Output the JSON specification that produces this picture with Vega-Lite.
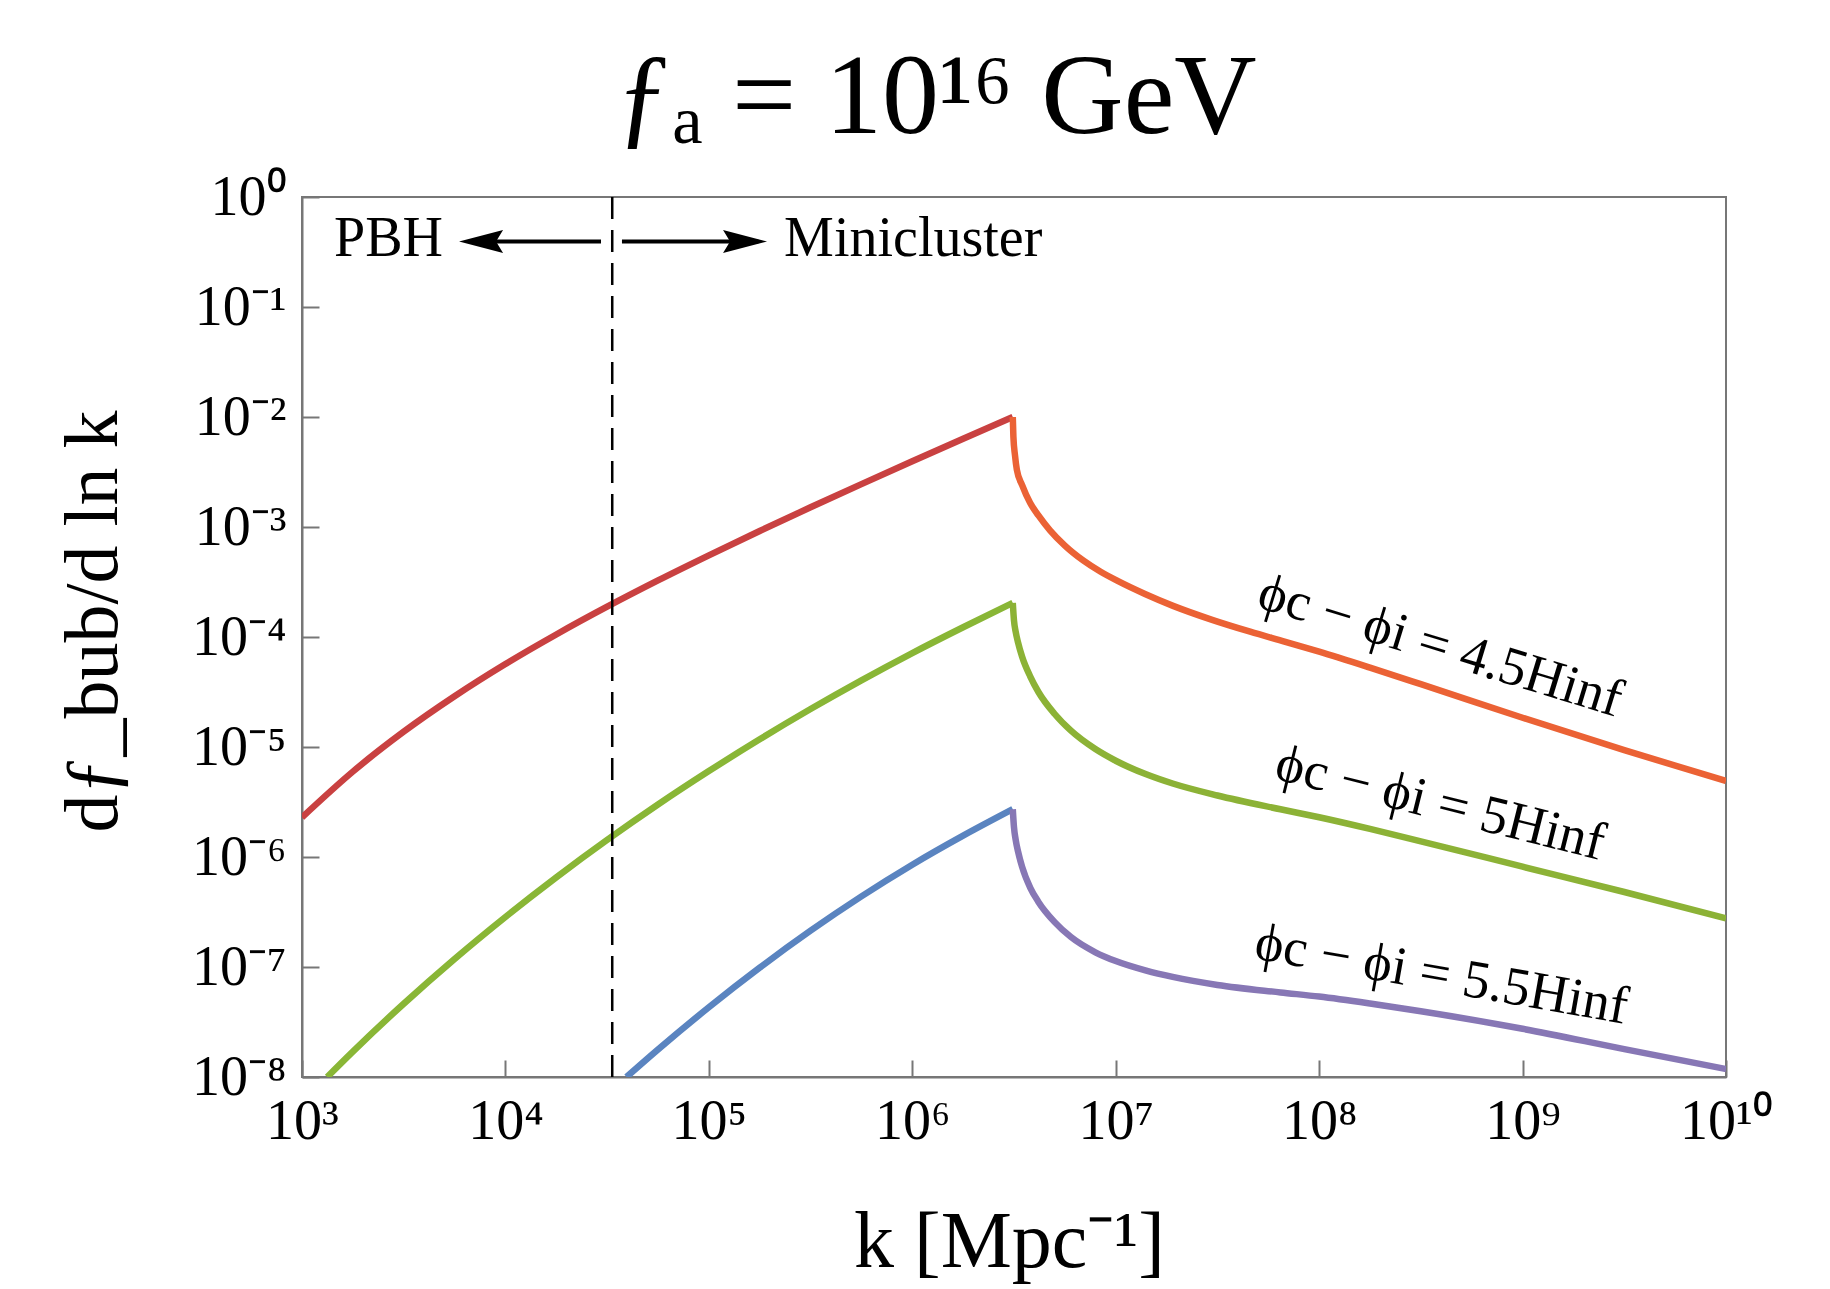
{
  "$schema": "https://vega.github.io/schema/vega-lite/v6.json",
  "width": 1424,
  "height": 880,
  "autosize": {"type": "none"},
  "padding": {"left": 302, "top": 197, "right": 104, "bottom": 212},
  "background": "white",
  "title": {"text": "ƒₐ  =  10¹⁶ GeV", "font": "Liberation Serif", "fontSize": 114, "fontWeight": "normal", "color": "black", "anchor": "middle", "baseline": "alphabetic", "offset": -78, "dx": -78},
  "config": {
    "view": {"stroke": "#777777", "strokeWidth": 2},
    "axis": {
      "grid": false,
      "domainColor": "#777777",
      "domainWidth": 2,
      "tickColor": "#777777",
      "tickWidth": 2,
      "tickSize": -17,
      "labelFont": "Liberation Serif",
      "labelFontSize": 56,
      "labelColor": "black",
      "labelFlush": false,
      "labelOverlap": false,
      "titleFont": "Liberation Serif",
      "titleFontWeight": "normal",
      "titleColor": "black"
    }
  },
  "datasets": {
    "curves": [
      {"k": 1000, "y": 2.291e-6, "seg": "4.5 rise"},
      {"k": 1778, "y": 5.971e-6, "seg": "4.5 rise"},
      {"k": 3162, "y": 1.377e-5, "seg": "4.5 rise"},
      {"k": 5623, "y": 2.891e-5, "seg": "4.5 rise"},
      {"k": 10000, "y": 5.675e-5, "seg": "4.5 rise"},
      {"k": 17783, "y": 1.054e-4, "seg": "4.5 rise"},
      {"k": 31623, "y": 1.884e-4, "seg": "4.5 rise"},
      {"k": 56234, "y": 3.266e-4, "seg": "4.5 rise"},
      {"k": 100000, "y": 5.521e-4, "seg": "4.5 rise"},
      {"k": 177828, "y": 9.204e-4, "seg": "4.5 rise"},
      {"k": 316228, "y": 1.510e-3, "seg": "4.5 rise"},
      {"k": 562341, "y": 2.455e-3, "seg": "4.5 rise"},
      {"k": 1000000, "y": 3.963e-3, "seg": "4.5 rise"},
      {"k": 1778279, "y": 6.353e-3, "seg": "4.5 rise"},
      {"k": 3119000, "y": 1.0e-2, "seg": "4.5 rise"},

      {"k": 3119000, "y": 1.0e-2, "seg": "4.5 fall"},
      {"k": 3141000, "y": 6.607e-3, "seg": "4.5 fall"},
      {"k": 3199000, "y": 4.467e-3, "seg": "4.5 fall"},
      {"k": 3266000, "y": 3.311e-3, "seg": "4.5 fall"},
      {"k": 3467000, "y": 2.399e-3, "seg": "4.5 fall"},
      {"k": 3793000, "y": 1.660e-3, "seg": "4.5 fall"},
      {"k": 4169000, "y": 1.274e-3, "seg": "4.5 fall"},
      {"k": 4753000, "y": 9.333e-4, "seg": "4.5 fall"},
      {"k": 5623000, "y": 6.776e-4, "seg": "4.5 fall"},
      {"k": 6918000, "y": 4.966e-4, "seg": "4.5 fall"},
      {"k": 8395000, "y": 3.936e-4, "seg": "4.5 fall"},
      {"k": 10160000, "y": 3.251e-4, "seg": "4.5 fall"},
      {"k": 13930000, "y": 2.460e-4, "seg": "4.5 fall"},
      {"k": 19140000, "y": 1.919e-4, "seg": "4.5 fall"},
      {"k": 29790000, "y": 1.432e-4, "seg": "4.5 fall"},
      {"k": 45810000, "y": 1.117e-4, "seg": "4.5 fall"},
      {"k": 68230000, "y": 9.036e-5, "seg": "4.5 fall"},
      {"k": 100000000, "y": 7.345e-5, "seg": "4.5 fall"},
      {"k": 177828000, "y": 5.260e-5, "seg": "4.5 fall"},
      {"k": 316228000, "y": 3.724e-5, "seg": "4.5 fall"},
      {"k": 1000000000, "y": 1.845e-5, "seg": "4.5 fall"},
      {"k": 3162278000, "y": 9.354e-6, "seg": "4.5 fall"},
      {"k": 10000000000, "y": 4.909e-6, "seg": "4.5 fall"},

      {"k": 1330, "y": 1.0e-8, "seg": "5 rise"},
      {"k": 1778, "y": 1.702e-8, "seg": "5 rise"},
      {"k": 3162, "y": 4.634e-8, "seg": "5 rise"},
      {"k": 5623, "y": 1.183e-7, "seg": "5 rise"},
      {"k": 10000, "y": 2.851e-7, "seg": "5 rise"},
      {"k": 17783, "y": 6.531e-7, "seg": "5 rise"},
      {"k": 31623, "y": 1.429e-6, "seg": "5 rise"},
      {"k": 56234, "y": 2.999e-6, "seg": "5 rise"},
      {"k": 100000, "y": 6.039e-6, "seg": "5 rise"},
      {"k": 177828, "y": 1.175e-5, "seg": "5 rise"},
      {"k": 316228, "y": 2.213e-5, "seg": "5 rise"},
      {"k": 562341, "y": 4.036e-5, "seg": "5 rise"},
      {"k": 1000000, "y": 7.145e-5, "seg": "5 rise"},
      {"k": 1778279, "y": 1.227e-4, "seg": "5 rise"},
      {"k": 3119000, "y": 2.042e-4, "seg": "5 rise"},

      {"k": 3119000, "y": 2.042e-4, "seg": "5 fall"},
      {"k": 3162000, "y": 1.413e-4, "seg": "5 fall"},
      {"k": 3221000, "y": 1.122e-4, "seg": "5 fall"},
      {"k": 3311000, "y": 8.913e-5, "seg": "5 fall"},
      {"k": 3467000, "y": 6.607e-5, "seg": "5 fall"},
      {"k": 3802000, "y": 4.365e-5, "seg": "5 fall"},
      {"k": 4169000, "y": 3.162e-5, "seg": "5 fall"},
      {"k": 5012000, "y": 1.995e-5, "seg": "5 fall"},
      {"k": 6026000, "y": 1.406e-5, "seg": "5 fall"},
      {"k": 7943000, "y": 9.572e-6, "seg": "5 fall"},
      {"k": 10000000, "y": 7.499e-6, "seg": "5 fall"},
      {"k": 14125000, "y": 5.649e-6, "seg": "5 fall"},
      {"k": 19055000, "y": 4.656e-6, "seg": "5 fall"},
      {"k": 31623000, "y": 3.622e-6, "seg": "5 fall"},
      {"k": 64565000, "y": 2.716e-6, "seg": "5 fall"},
      {"k": 100000000, "y": 2.296e-6, "seg": "5 fall"},
      {"k": 177828000, "y": 1.799e-6, "seg": "5 fall"},
      {"k": 316228000, "y": 1.387e-6, "seg": "5 fall"},
      {"k": 1000000000, "y": 8.166e-7, "seg": "5 fall"},
      {"k": 3162278000, "y": 4.808e-7, "seg": "5 fall"},
      {"k": 10000000000, "y": 2.767e-7, "seg": "5 fall"},

      {"k": 39360, "y": 1.0e-8, "seg": "5.5 rise"},
      {"k": 56234, "y": 1.778e-8, "seg": "5.5 rise"},
      {"k": 100000, "y": 4.305e-8, "seg": "5.5 rise"},
      {"k": 177828, "y": 9.863e-8, "seg": "5.5 rise"},
      {"k": 316228, "y": 2.138e-7, "seg": "5.5 rise"},
      {"k": 562341, "y": 4.385e-7, "seg": "5.5 rise"},
      {"k": 1000000, "y": 8.511e-7, "seg": "5.5 rise"},
      {"k": 1778279, "y": 1.563e-6, "seg": "5.5 rise"},
      {"k": 3119000, "y": 2.72e-6, "seg": "5.5 rise"},

      {"k": 3119000, "y": 2.72e-6, "seg": "5.5 fall"},
      {"k": 3162000, "y": 1.862e-6, "seg": "5.5 fall"},
      {"k": 3221000, "y": 1.445e-6, "seg": "5.5 fall"},
      {"k": 3311000, "y": 1.122e-6, "seg": "5.5 fall"},
      {"k": 3467000, "y": 8.128e-7, "seg": "5.5 fall"},
      {"k": 3802000, "y": 5.248e-7, "seg": "5.5 fall"},
      {"k": 4169000, "y": 3.908e-7, "seg": "5.5 fall"},
      {"k": 5012000, "y": 2.559e-7, "seg": "5.5 fall"},
      {"k": 6026000, "y": 1.871e-7, "seg": "5.5 fall"},
      {"k": 7943000, "y": 1.361e-7, "seg": "5.5 fall"},
      {"k": 10000000, "y": 1.132e-7, "seg": "5.5 fall"},
      {"k": 14125000, "y": 9.268e-8, "seg": "5.5 fall"},
      {"k": 19055000, "y": 8.128e-8, "seg": "5.5 fall"},
      {"k": 31623000, "y": 6.871e-8, "seg": "5.5 fall"},
      {"k": 64565000, "y": 5.875e-8, "seg": "5.5 fall"},
      {"k": 100000000, "y": 5.383e-8, "seg": "5.5 fall"},
      {"k": 177828000, "y": 4.656e-8, "seg": "5.5 fall"},
      {"k": 316228000, "y": 3.963e-8, "seg": "5.5 fall"},
      {"k": 1000000000, "y": 2.742e-8, "seg": "5.5 fall"},
      {"k": 3162278000, "y": 1.791e-8, "seg": "5.5 fall"},
      {"k": 10000000000, "y": 1.183e-8, "seg": "5.5 fall"}
    ]
  },
  "layer": [
    {
      "data": {"name": "curves"},
      "mark": {"type": "line", "strokeWidth": 6.5, "clip": true, "interpolate": "monotone"},
      "encoding": {
        "x": {
          "field": "k", "type": "quantitative",
          "scale": {"type": "log", "domain": [1000, 10000000000], "nice": false},
          "axis": {
            "values": [1000, 10000, 100000, 1000000, 10000000, 100000000, 1000000000, 10000000000],
            "labelExpr": "['10³','10⁴','10⁵','10⁶','10⁷','10⁸','10⁹','10¹⁰'][round(log(datum.value)/LN10)-3]",
            "labelBaseline": "alphabetic",
            "labelAlign": "center",
            "labelPadding": 78,
            "title": "k [Mpc⁻¹]",
            "titleFontSize": 80,
            "titleX": 707,
            "titleY": 189,
            "titleBaseline": "alphabetic",
            "titleAlign": "center"
          }
        },
        "y": {
          "field": "y", "type": "quantitative",
          "scale": {"type": "log", "domain": [1e-8, 1], "nice": false},
          "axis": {
            "values": [1e-8, 1e-7, 1e-6, 1e-5, 1e-4, 1e-3, 1e-2, 1e-1, 1],
            "labelExpr": "['10⁰','10⁻¹','10⁻²','10⁻³','10⁻⁴','10⁻⁵','10⁻⁶','10⁻⁷','10⁻⁸'][-round(log(datum.value)/LN10)]",
            "labelBaseline": "middle",
            "labelAlign": "right",
            "labelPadding": 33,
            "title": "dƒ_bub/d ln k",
            "titleFontSize": 76,
            "titleAngle": -90,
            "titleX": -186,
            "titleY": 424,
            "titleBaseline": "alphabetic",
            "titleAlign": "center"
          }
        },
        "color": {
          "field": "seg", "type": "nominal",
          "scale": {
            "domain": ["4.5 rise", "4.5 fall", "5 rise", "5 fall", "5.5 rise", "5.5 fall"],
            "range": ["#C94141", "#EB6235", "#89B636", "#8CB236", "#5A84C0", "#8777B5"]
          },
          "legend": null
        }
      }
    },
    {
      "data": {"values": [{"k": 33500}]},
      "mark": {"type": "rule", "color": "black", "strokeWidth": 2.5, "strokeDash": [22, 11]},
      "encoding": {"x": {"field": "k", "type": "quantitative"}}
    },
    {
      "data": {"values": [{"k": 6600, "k2": 29500, "y": 0.394}, {"k": 37400, "k2": 175000, "y": 0.394}]},
      "mark": {"type": "rule", "color": "black", "strokeWidth": 4},
      "encoding": {
        "x": {"field": "k", "type": "quantitative"},
        "x2": {"field": "k2"},
        "y": {"field": "y", "type": "quantitative"}
      }
    },
    {
      "data": {"values": [{"k": 5916, "y": 0.394}]},
      "mark": {"type": "point", "shape": "M0,0 L2.2,-0.58 L1.85,0 L2.2,0.58 Z", "size": 1600, "filled": true, "color": "black", "opacity": 1, "strokeWidth": 0},
      "encoding": {
        "x": {"field": "k", "type": "quantitative"},
        "y": {"field": "y", "type": "quantitative"}
      }
    },
    {
      "data": {"values": [{"k": 193200, "y": 0.394}]},
      "mark": {"type": "point", "shape": "M0,0 L-2.2,-0.58 L-1.85,0 L-2.2,0.58 Z", "size": 1600, "filled": true, "color": "black", "opacity": 1, "strokeWidth": 0},
      "encoding": {
        "x": {"field": "k", "type": "quantitative"},
        "y": {"field": "y", "type": "quantitative"}
      }
    },
    {
      "data": {"values": [{"k": 4932, "y": 0.291, "label": "PBH"}]},
      "mark": {"type": "text", "align": "right", "baseline": "alphabetic", "font": "Liberation Serif", "fontSize": 56, "color": "black"},
      "encoding": {
        "x": {"field": "k", "type": "quantitative"},
        "y": {"field": "y", "type": "quantitative"},
        "text": {"field": "label"}
      }
    },
    {
      "data": {"values": [{"k": 234400, "y": 0.291, "label": "Minicluster"}]},
      "mark": {"type": "text", "align": "left", "baseline": "alphabetic", "font": "Liberation Serif", "fontSize": 56, "color": "black"},
      "encoding": {
        "x": {"field": "k", "type": "quantitative"},
        "y": {"field": "y", "type": "quantitative"},
        "text": {"field": "label"}
      }
    },
    {
      "data": {"values": [{"k": 394000000, "y": 8.2e-5, "label": "ϕc − ϕi = 4.5Hinf"}]},
      "mark": {"type": "text", "align": "center", "baseline": "middle", "angle": 17, "font": "Liberation Serif", "fontSize": 54, "color": "black"},
      "encoding": {
        "x": {"field": "k", "type": "quantitative"},
        "y": {"field": "y", "type": "quantitative"},
        "text": {"field": "label"}
      }
    },
    {
      "data": {"values": [{"k": 394000000, "y": 3.05e-6, "label": "ϕc − ϕi = 5Hinf"}]},
      "mark": {"type": "text", "align": "center", "baseline": "middle", "angle": 14, "font": "Liberation Serif", "fontSize": 54, "color": "black"},
      "encoding": {
        "x": {"field": "k", "type": "quantitative"},
        "y": {"field": "y", "type": "quantitative"},
        "text": {"field": "label"}
      }
    },
    {
      "data": {"values": [{"k": 400000000, "y": 8.4e-8, "label": "ϕc − ϕi = 5.5Hinf"}]},
      "mark": {"type": "text", "align": "center", "baseline": "middle", "angle": 10, "font": "Liberation Serif", "fontSize": 54, "color": "black"},
      "encoding": {
        "x": {"field": "k", "type": "quantitative"},
        "y": {"field": "y", "type": "quantitative"},
        "text": {"field": "label"}
      }
    }
  ]
}
